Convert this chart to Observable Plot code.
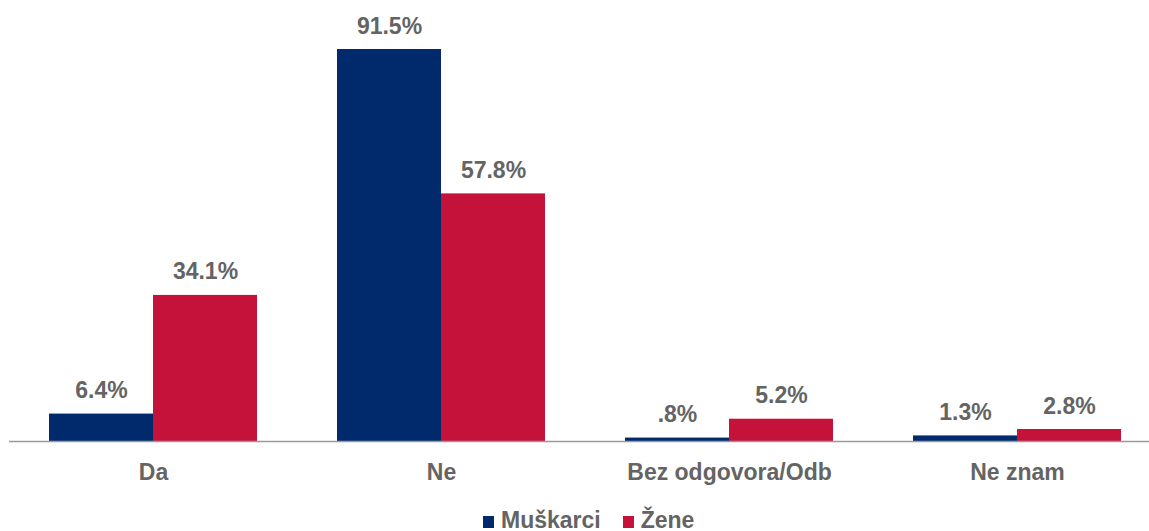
<!DOCTYPE html>
<html>
<head>
<meta charset="utf-8">
<script src="https://cdn.jsdelivr.net/npm/d3@7"></script>
<script src="https://cdn.jsdelivr.net/npm/@observablehq/plot@0.6"></script>
<style>
  html, body { margin: 0; padding: 0; background: #fff; overflow: hidden; }
  #chart svg { display: block; }
  .legend { display: flex; align-items: center; height: 28px; line-height: 28px;
    margin-left: 483px; font-family: "Liberation Sans", Arial, sans-serif;
    font-weight: bold; font-size: 23px; color: #646464; }
  .legend .sw { width: 11px; height: 12px; margin-right: 7px; margin-top: 4px; }
  .legend .item { display: flex; align-items: center; margin-right: 22px; }
</style>
</head>
<body>
<div id="chart"></div>
<div class="legend" id="legend"></div>
<script>
const categories = ["Da", "Ne", "Bez odgovora/Odb", "Ne znam"];
const series = ["Muškarci", "Žene"];
const muskarci = [6.4, 91.5, 0.8, 1.3];
const zene = [34.1, 57.8, 5.2, 2.8];
const colors = ["#002a6b", "#c4123b"];

const fmt = v => d3.format(".1f")(v).replace(/^0\./, ".") + "%";
const data = [];
categories.forEach((c, i) => {
  data.push({category: c, series: series[0], value: muskarci[i]});
  data.push({category: c, series: series[1], value: zene[i]});
});

const chart = Plot.plot({
  width: 1149,
  height: 506,
  marginTop: 12.6,
  marginBottom: 65,
  marginLeft: 0,
  marginRight: 0,
  style: {fontFamily: "'Liberation Sans', Arial, sans-serif", fontSize: "23px", fontWeight: "bold", color: "#646464", background: "#fff"},
  fx: {domain: categories, range: [9, 1161], padding: 0, label: null},
  x: {domain: series, paddingInner: 0, paddingOuter: 0.378, axis: null},
  y: {domain: [0, 100], axis: null},
  color: {domain: series, range: colors},
  marks: [
    Plot.barY(data, {fx: "category", x: "series", y: "value", fill: "series"}),
    Plot.ruleY([0], {stroke: "#9a9a9a", strokeWidth: 1.5}),
    Plot.text(data, {fx: "category", x: "series", y: "value", text: d => fmt(d.value), dy: -16, lineAnchor: "bottom", fill: "#646464"}),
    Plot.axisFx({anchor: "bottom", tickSize: 0, tickPadding: 22, label: null})
  ]
});
document.getElementById("chart").appendChild(chart);

const legend = document.getElementById("legend");
series.forEach((s, i) => {
  const item = document.createElement("div");
  item.className = "item";
  const sw = document.createElement("div");
  sw.className = "sw";
  sw.style.background = colors[i];
  const t = document.createElement("span");
  t.textContent = s;
  item.appendChild(sw);
  item.appendChild(t);
  legend.appendChild(item);
});
</script>
</body>
</html>
